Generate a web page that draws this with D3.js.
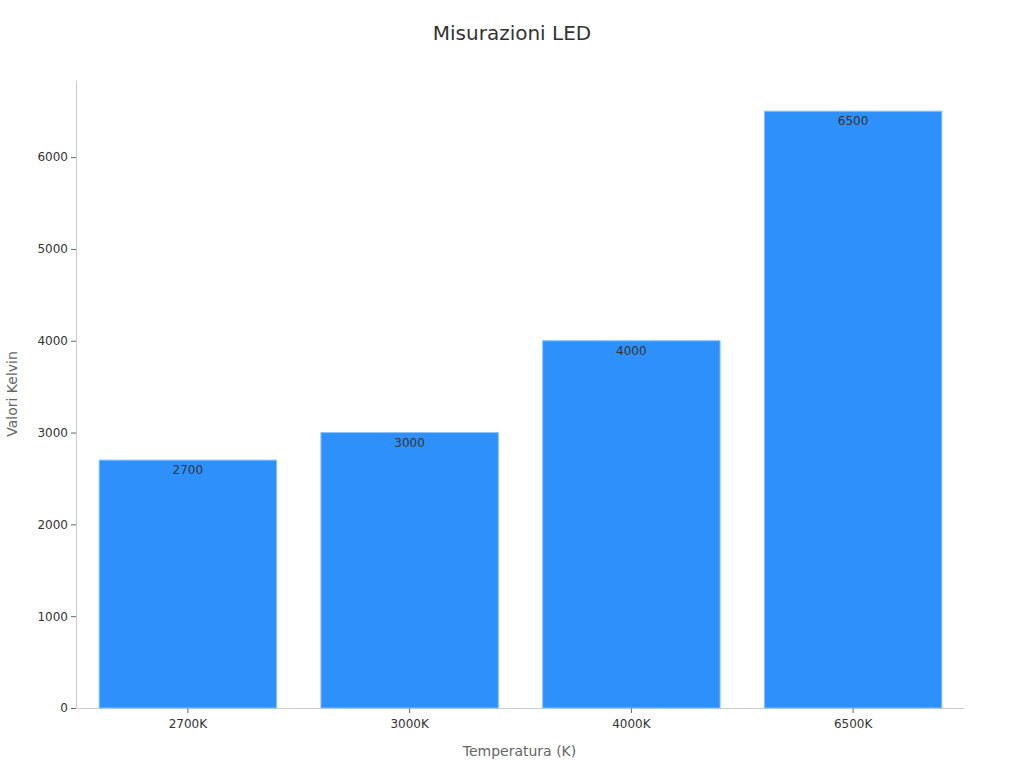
<!DOCTYPE html>
<html><head><meta charset="utf-8">
<script src="https://cdn.jsdelivr.net/npm/d3@7"></script>
<style>body{margin:0;background:#fff;font-family:"DejaVu Sans",sans-serif;}</style>
</head><body><svg id="c" width="1024" height="768"></svg>
<script>
const categories = ["2700K","3000K","4000K","6500K"];
const values = [2700,3000,4000,6500];
const yTicks = [0,1000,2000,3000,4000,5000,6000];

const svg = d3.select("#c");
const m = {l:76, r:61, t:80, b:60};
const W = 1024, H = 768;
const x = d3.scaleBand().domain(categories).range([m.l + 1, W - m.r + 1]).paddingInner(0.2).paddingOuter(0.1);
const y = d3.scaleLinear().domain([0, 6840]).range([H-m.b, m.t]);

svg.append("text").attr("x",512).attr("y",40).attr("text-anchor","middle")
  .attr("font-size",20).attr("fill","#333").text("Misurazioni LED");

const gx = svg.append("g").attr("transform",`translate(0,${H-m.b})`)
  .call(d3.axisBottom(x).tickSizeInner(5).tickSizeOuter(0).tickPadding(6));
gx.select(".domain").attr("stroke","#ccc");
gx.selectAll(".tick line").attr("stroke","#666");
gx.selectAll("text").attr("font-size",12).attr("fill","#333").attr("font-family","DejaVu Sans");

const gy = svg.append("g").attr("transform",`translate(${m.l},0)`)
  .call(d3.axisLeft(y).tickValues(yTicks).tickFormat(d3.format("d")).tickSizeInner(5).tickSizeOuter(0).tickPadding(3));
gy.select(".domain").attr("stroke","#ccc");
gy.selectAll(".tick line").attr("stroke","#666");
gy.selectAll("text").attr("font-size",12).attr("fill","#333").attr("font-family","DejaVu Sans");

svg.selectAll("rect.bar").data(values).enter().append("rect")
  .attr("x",(d,i)=>x(categories[i])).attr("width",x.bandwidth())
  .attr("y",d=>y(d)).attr("height",d=>y(0)-y(d))
  .attr("fill","#2E90FA").attr("stroke","#84C1FF").attr("stroke-width",1);

svg.selectAll("text.lbl").data(values).enter().append("text")
  .attr("x",(d,i)=>x(categories[i])+x.bandwidth()/2).attr("y",d=>y(d)+14)
  .attr("text-anchor","middle").attr("font-size",12).attr("fill","#333").text(d=>d);

svg.append("text").attr("x",(m.l+W-m.r)/2).attr("y",756).attr("text-anchor","middle")
  .attr("font-size",14).attr("fill","#666").text("Temperatura (K)");
svg.append("text").attr("transform",`translate(17,${(m.t+H-m.b)/2}) rotate(-90)`)
  .attr("text-anchor","middle").attr("font-size",14).attr("fill","#666").text("Valori Kelvin");
</script></body></html>
